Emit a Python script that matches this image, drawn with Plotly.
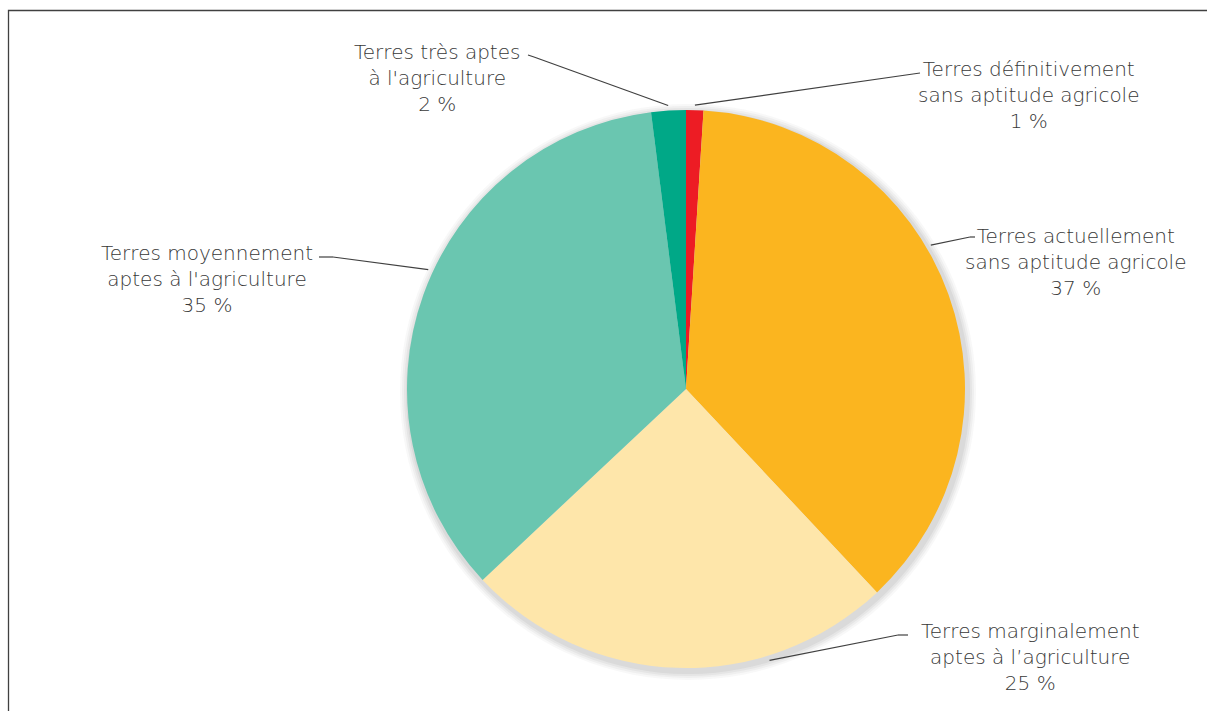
import math
import plotly.graph_objects as go

# ---- data ----
categories = [
    "Terres définitivement<br>sans aptitude agricole",
    "Terres actuellement<br>sans aptitude agricole",
    "Terres marginalement<br>aptes à l’agriculture",
    "Terres moyennement<br>aptes à l'agriculture",
    "Terres très aptes<br>à l'agriculture",
]
values = [1, 37, 25, 35, 2]
colors = ["#ED1C24", "#FBB51F", "#FEE6AA", "#6AC6B0", "#00A887"]

# ---- layout constants (pixels) ----
W, H = 1207, 711
CX, CY, R = 686, 389, 279
# where on each slice the leader line attaches (fraction of slice span)
anchor_frac = [0.5, 0.42, 0.29, 0.54, 0.5]
# label centre positions and elbow positions (pixels)
label_pos = [(1028, 95), (1075, 262), (1030, 657), (207, 279), (437, 78)]
elbow_pos = [((913, 74), (920, 73)), ((970, 237), (975, 237)), ((898, 635), (908, 635)),
             ((333, 257), (319, 257)), ((534, 57), (528, 55))]

def px(x):
    return x / W

def py(y):
    return 1 - y / H

fig = go.Figure()

# soft shadow layers
for k, (dr, op) in enumerate([(9, 0.04), (7, 0.05), (5, 0.06), (3, 0.08)]):
    r = R + dr
    cx, cy = CX + 2, CY + 3
    fig.add_trace(go.Pie(
        values=[sum(values)], marker=dict(colors=["#555555"], line=dict(width=0)),
        opacity=op, textinfo="none", hoverinfo="skip", showlegend=False, sort=False,
        domain=dict(x=[px(cx - r), px(cx + r)], y=[py(cy + r), py(cy - r)]),
    ))

fig.add_trace(go.Pie(
    labels=[c.replace("<br>", " ") for c in categories],
    values=values,
    marker=dict(colors=colors, line=dict(width=0)),
    sort=False, direction="clockwise", rotation=0,
    textinfo="none", showlegend=False,
    domain=dict(x=[px(CX - R), px(CX + R)], y=[py(CY + R), py(CY - R)]),
))

total = sum(values)
cum = 0
shapes = []
annotations = []
for i, v in enumerate(values):
    frac = (cum + v * anchor_frac[i]) / total
    cum += v
    ang = 2 * math.pi * frac
    rr = R + 5
    sx = CX + rr * math.sin(ang)
    sy = CY - rr * math.cos(ang)
    (ex, ey), (tx, ty) = elbow_pos[i]
    for (x0, y0, x1, y1) in [(sx, sy, ex, ey), (ex, ey, tx, ty)]:
        shapes.append(dict(type="line", xref="paper", yref="paper",
                           x0=px(x0), y0=py(y0), x1=px(x1), y1=py(y1),
                           line=dict(color="#404040", width=1.2)))
    lx, ly = label_pos[i]
    pct = round(100 * v / total)
    annotations.append(dict(
        x=px(lx), y=py(ly), xref="paper", yref="paper",
        text=f"{categories[i]}<br>{pct} %", showarrow=False,
        xanchor="center", yanchor="middle", align="center",
        font=dict(family="DejaVu Sans", size=20, color="#383838", weight=300),
    ))

# frame
shapes.append(dict(type="rect", xref="paper", yref="paper",
                   x0=px(8.5), y0=py(H + 20), x1=px(W + 20), y1=py(10.5),
                   line=dict(color="#404040", width=1.3), fillcolor="rgba(0,0,0,0)"))

fig.update_layout(
    width=W, height=H,
    margin=dict(l=0, r=0, t=0, b=0),
    paper_bgcolor="white", plot_bgcolor="white",
    shapes=shapes, annotations=annotations,
    showlegend=False,
)

fig.write_html("out.html")
